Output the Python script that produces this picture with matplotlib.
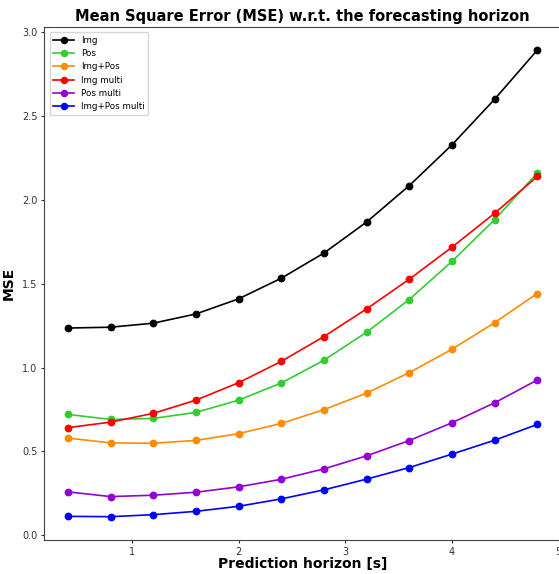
import matplotlib
matplotlib.use("Agg")
import matplotlib.pyplot as plt

horizon = [0.4, 0.8, 1.2, 1.6, 2.0, 2.4, 2.8, 3.2, 3.6, 4.0, 4.4, 4.8]

img = [1.236, 1.241, 1.265, 1.320, 1.410, 1.533, 1.683, 1.868, 2.085, 2.328, 2.600, 2.893]
pos = [0.721, 0.691, 0.697, 0.733, 0.806, 0.908, 1.044, 1.211, 1.406, 1.633, 1.882, 2.160]
img_pos = [0.580, 0.551, 0.549, 0.566, 0.606, 0.667, 0.749, 0.848, 0.970, 1.109, 1.268, 1.442]
img_multi = [0.642, 0.675, 0.727, 0.806, 0.910, 1.037, 1.185, 1.350, 1.527, 1.718, 1.920, 2.140]
pos_multi = [0.259, 0.231, 0.239, 0.257, 0.289, 0.334, 0.396, 0.474, 0.565, 0.671, 0.790, 0.926]
img_pos_multi = [0.113, 0.111, 0.123, 0.143, 0.173, 0.217, 0.271, 0.335, 0.404, 0.484, 0.567, 0.661]

series_names = ["Img", "Pos", "Img+Pos", "Img multi", "Pos multi", "Img+Pos multi"]
series_vals = [img, pos, img_pos, img_multi, pos_multi, img_pos_multi]
colors = ["black", "limegreen", "darkorange", "red", "darkviolet", "blue"]

fig = plt.figure(figsize=(5.59, 5.74), dpi=100)
ax = fig.add_axes([0.0795, 0.0592, 0.9235, 0.894])

for name, vals, c in zip(series_names, series_vals, colors):
    ax.plot(horizon, vals, marker="o", color=c, label=name,
            linewidth=1.2, markersize=4.6)

ax.set_title("Mean Square Error (MSE) w.r.t. the forecasting horizon",
             fontsize=10.5, fontweight="bold", pad=4)
ax.set_xlabel("Prediction horizon [s]", fontsize=10, fontweight="bold", labelpad=0)
ax.set_ylabel("MSE", fontsize=10, fontweight="bold", labelpad=4.5)
ax.tick_params(labelsize=7, length=2.5, width=0.8, colors="#333333", pad=2.5)
for s in ax.spines.values():
    s.set_color("#444444")
ax.legend(loc="upper left", fontsize=6.3, handlelength=2.4, markerscale=0.95,
          borderaxespad=0.6)

fig.savefig("out.png", dpi=100)
